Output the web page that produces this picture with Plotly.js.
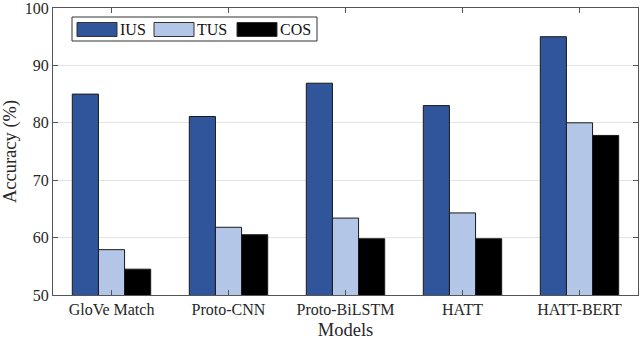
<!DOCTYPE html>
<html>
<head>
<meta charset="utf-8">
<script src="https://cdn.plot.ly/plotly-3.0.1.min.js"></script>
<style>
  html, body { margin: 0; padding: 0; background: #fff; }
  #chart { width: 640px; height: 340px; }
</style>
</head>
<body>
<div id="chart"></div>
<script>
    // data
    var models = ['GloVe Match', 'Proto-CNN', 'Proto-BiLSTM', 'HATT', 'HATT-BERT'];
    var seriesNames = ['IUS', 'TUS', 'COS'];
    var ius = [85.0, 81.1, 86.9, 83.0, 95.0];
    var tus = [57.9, 61.8, 63.4, 64.3, 80.0];
    var cos = [54.5, 60.5, 59.8, 59.8, 77.8];
    var colors = ['#30559a', '#b4c6e7', '#000000'];
    var yTicks = [50, 60, 70, 80, 90, 100];

    var font = 'Liberation Serif, Times New Roman, serif';
    var values = [ius, tus, cos];

    var traces = values.map(function (v, i) {
        return {
            x: models,
            y: v,
            name: seriesNames[i],
            type: 'bar',
            marker: { color: colors[i], line: { color: '#1a1a1a', width: 1 } },
            showlegend: false
        };
    });

    // plot area in pixels, used to place the MATLAB-style legend box
    var L = 53, R = 2, T = 8, B = 45, W = 640, H = 340;
    function px(x) { return (x - L) / (W - L - R); }
    function py(y) { return (H - B - y) / (H - T - B); }

    var shapes = [{
        type: 'rect', xref: 'paper', yref: 'paper',
        x0: px(72), x1: px(317), y0: py(41), y1: py(17),
        line: { color: '#333', width: 1 }, fillcolor: '#fff'
    }];
    var annotations = [];
    var swatchX = [77, 154, 237];
    seriesNames.forEach(function (name, i) {
        shapes.push({
            type: 'rect', xref: 'paper', yref: 'paper',
            x0: px(swatchX[i]), x1: px(swatchX[i] + 40), y0: py(36.5), y1: py(22.5),
            line: { color: '#333', width: 1 }, fillcolor: colors[i]
        });
        annotations.push({
            xref: 'paper', yref: 'paper', x: px(swatchX[i] + 41), y: py(29.5),
            xanchor: 'left', yanchor: 'middle', text: name, showarrow: false,
            font: { family: font, size: 16, color: '#111' }
        });
    });

    var layout = {
        width: W,
        height: H,
        margin: { l: L, r: R, t: T, b: B },
        barmode: 'group',
        bargap: 0.33,
        bargroupgap: 0,
        paper_bgcolor: '#fff',
        plot_bgcolor: '#fff',
        font: { family: font, size: 16, color: '#262626' },
        xaxis: {
            range: [-0.5, 4.5],
            showline: true, linecolor: '#555', linewidth: 1, mirror: 'ticks',
            ticks: 'inside', ticklen: 5, tickcolor: '#555',
            showgrid: false, zeroline: false,
            tickfont: { family: font, size: 16, color: '#262626' },
            title: { text: 'Models', font: { family: font, size: 18.5, color: '#262626' } }
        },
        yaxis: {
            range: [50, 100],
            tickmode: 'array',
            tickvals: yTicks,
            ticklabeloverflow: 'allow',
            showline: true, linecolor: '#555', linewidth: 1, mirror: 'ticks',
            ticks: 'inside', ticklen: 5, tickcolor: '#555',
            showgrid: true, gridcolor: '#e3e3e3', zeroline: false,
            tickfont: { family: font, size: 16, color: '#262626' },
            title: { text: 'Accuracy (%)', font: { family: font, size: 18.5, color: '#262626' } }
        },
        shapes: shapes,
        annotations: annotations
    };

    Plotly.newPlot('chart', traces, layout, { displayModeBar: false, responsive: false });
</script>
</body>
</html>
